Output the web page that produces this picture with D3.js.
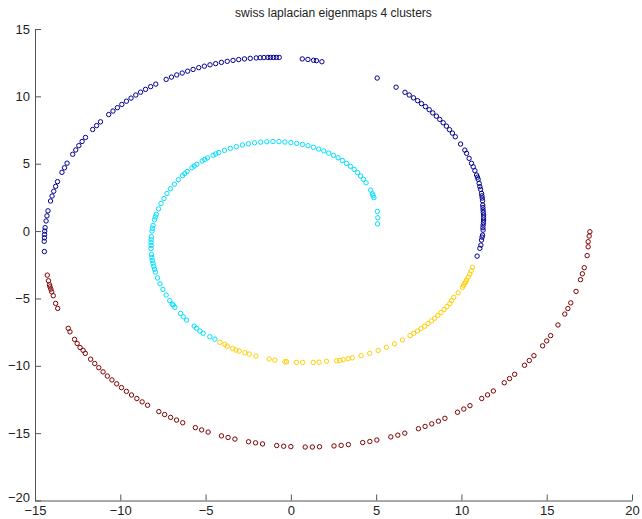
<!DOCTYPE html>
<html>
<head>
<meta charset="utf-8">
<script src="https://cdnjs.cloudflare.com/ajax/libs/d3/7.8.5/d3.min.js"></script>
<style>
  body { margin: 0; background: #fff; }
  svg text { font-family: "Liberation Sans", Arial, Helvetica, sans-serif; }
</style>
</head>
<body>
<div id="chart"></div>
<script>
var chartTitle = "swiss laplacian eigenmaps 4 clusters";
var xTicks = [-15, -10, -5, 0, 5, 10, 15, 20];
var yTicks = [-20, -15, -10, -5, 0, 5, 10, 15];
var clusterColors = ["#00008f", "#00dfff", "#ffcf00", "#800000"];

// cluster 1 (dark blue), outer arc over the top
var bluePoints = [
  [10.92,-1.86],[11.08,-1.28],[11.14,-1.04],[11.18,-0.67],[11.21,-0.45],[11.24,-0.30],[11.27,0.07],
  [11.26,0.25],[11.27,0.45],[11.29,0.63],[11.30,0.82],[11.30,1.00],[11.30,1.19],[11.28,1.38],
  [11.27,1.56],[11.26,1.75],[11.25,1.93],[11.24,2.25],[11.22,2.45],[11.20,2.62],[11.18,2.80],
  [11.12,3.10],[11.08,3.30],[11.04,3.54],[10.98,3.84],[10.94,4.00],[10.89,4.16],[10.79,4.48],
  [10.69,4.77],[10.59,5.03],[10.45,5.40],[10.30,5.77],[10.20,6.01],
  [9.95,6.46],[9.64,7.00],[9.47,7.27],[9.30,7.53],[9.12,7.79],[8.93,8.04],[8.73,8.29],[8.53,8.53],
  [8.32,8.77],[8.11,9.01],[7.89,9.24],[7.66,9.46],[7.43,9.68],[7.19,9.89],[6.94,10.10],[6.69,10.30],
  [6.17,10.68],[5.06,11.36],
  [1.82,12.57],[1.50,12.65],[1.33,12.68],[1.00,12.74],[0.67,12.78],
  [-0.68,12.89],[-0.85,12.89],[-1.02,12.89],[-1.20,12.89],[-1.35,12.89],[-1.58,12.88],[-1.80,12.87],
  [-2.03,12.85],[-2.38,12.82],[-2.72,12.78],[-3.06,12.73],[-3.39,12.67],[-3.73,12.60],[-4.07,12.52],
  [-4.41,12.43],[-4.74,12.34],[-5.07,12.24],[-5.40,12.13],[-5.73,12.00],[-6.05,11.87],[-6.37,11.73],
  [-6.69,11.59],[-7.00,11.43],[-7.31,11.26],
  [-7.92,10.91],[-8.22,10.72],[-8.52,10.52],[-8.81,10.31],[-9.09,10.10],[-9.37,9.87],[-9.64,9.64],
  [-9.91,9.40],[-10.17,9.16],[-10.43,8.91],[-10.68,8.65],[-11.16,8.11],[-11.39,7.83],[-11.62,7.54],
  [-12.04,6.95],[-12.24,6.65],[-12.43,6.34],[-12.61,6.02],[-12.79,5.70],[-13.12,5.04],[-13.27,4.70],
  [-13.42,4.36],[-13.68,3.67],[-13.79,3.32],[-13.90,2.96],[-14.00,2.60],[-14.09,2.23],[-14.24,1.50],
  [-14.30,1.13],[-14.35,0.75],[-14.41,0.25],[-14.43,0.00],[-14.44,-0.25],[-14.45,-0.50],
  [-14.46,-0.76],[-14.45,-1.52]
];

// cluster 2 (cyan), inner arc
var cyanPoints = [
  [5.08,0.53],[5.10,0.99],[5.07,1.46],
  [4.87,2.48],[4.82,2.62],[4.78,2.76],[4.68,3.04],[4.41,3.58],[4.26,3.84],[4.09,4.09],
  [3.91,4.34],[3.71,4.58],[3.49,4.81],[3.26,5.03],[3.02,5.24],[2.77,5.44],[2.50,5.62],
  [2.22,5.79],[1.93,5.95],[1.63,6.09],[1.32,6.22],[1.00,6.34],[0.68,6.43],[0.34,6.51],[0.00,6.57],
  [-0.35,6.61],[-0.70,6.64],[-1.05,6.65],[-1.41,6.63],[-1.77,6.60],[-2.13,6.55],[-2.49,6.48],
  [-2.84,6.39],[-3.20,6.27],[-3.55,6.14],[-3.89,5.99],[-4.23,5.82],[-4.40,5.73],[-4.56,5.63],
  [-4.89,5.43],[-5.05,5.32],[-5.20,5.20],[-5.51,4.96],[-5.66,4.83],[-5.80,4.70],[-6.08,4.42],
  [-6.22,4.27],[-6.35,4.12],[-6.60,3.81],
  [-6.83,3.48],[-7.06,3.14],[-7.26,2.79],[-7.44,2.42],[-7.61,2.04],[-7.76,1.65],
  [-7.89,1.25],[-7.95,1.05],[-7.99,0.84],[-8.08,0.42],[-8.11,0.21],[-8.14,0.00],[-8.18,-0.43],
  [-8.19,-0.65],[-8.20,-0.86],[-8.19,-1.08],[-8.20,-1.30],[-8.17,-1.74],[-8.15,-1.96],
  [-8.12,-2.17],[-8.08,-2.39],[-8.04,-2.61],[-7.99,-2.83],[-7.94,-3.05],[-7.82,-3.48],
  [-7.67,-3.91],[-7.50,-4.33],[-7.31,-4.75],[-7.10,-5.16],
  [-6.95,-5.42],[-6.90,-5.49],[-6.80,-5.66],[-6.47,-6.11],[-6.31,-6.36],[-6.11,-6.61],
  [-5.67,-7.05],[-5.53,-7.22],[-5.33,-7.42],[-5.14,-7.59],[-4.75,-7.85],[-4.45,-8.02]
];

// cluster 3 (yellow), inner arc bottom right
var yellowPoints = [
  [-4.16,-8.26],[-3.87,-8.41],[-3.73,-8.54],[-3.42,-8.71],[-3.22,-8.83],[-3.03,-8.91],
  [-2.70,-9.03],[-2.44,-9.13],[-2.05,-9.28],[-1.27,-9.50],[-0.94,-9.58],[-0.35,-9.70],
  [-0.25,-9.70],[0.33,-9.75],[0.69,-9.75],[1.31,-9.75],[1.66,-9.73],[2.09,-9.67],
  [2.68,-9.63],[2.87,-9.60],[3.07,-9.55],[3.36,-9.48],
  [3.61,-9.41],[4.12,-9.25],[4.62,-9.07],[5.12,-8.86],[5.60,-8.63],[6.08,-8.37],
  [6.54,-8.08],[6.99,-7.76],[7.20,-7.59],[7.42,-7.42],[7.63,-7.24],[7.84,-7.06],[8.04,-6.87],
  [8.24,-6.67],[8.43,-6.47],[8.62,-6.26],[8.80,-6.05],[8.98,-5.83],[9.15,-5.61],[9.32,-5.38],
  [9.43,-5.15],[9.55,-4.92],[9.81,-4.58],[10.06,-4.18],[10.12,-4.03],[10.20,-3.88],[10.25,-3.78],
  [10.30,-3.64],[10.40,-3.42],[10.49,-3.19],[10.57,-2.94],[10.65,-2.69]
];

// cluster 4 (dark red), outer arc bottom
var redPoints = [
  [-14.28,-3.27],[-14.21,-3.69],[-14.15,-3.99],[-14.12,-4.14],[-14.07,-4.31],[-14.02,-4.51],
  [-13.93,-4.80],[-13.79,-5.37],[-13.67,-5.74],
  [-13.05,-7.22],[-12.95,-7.48],[-12.68,-8.04],[-12.53,-8.34],[-12.36,-8.64],[-12.18,-8.85],
  [-12.05,-9.08],[-11.74,-9.51],[-11.50,-9.83],[-11.26,-10.14],[-11.01,-10.45],[-10.76,-10.76],
  [-10.49,-11.05],[-10.21,-11.34],[-9.93,-11.62],[-9.64,-11.90],[-9.34,-12.17],[-9.03,-12.43],
  [-8.72,-12.68],[-8.40,-12.93],[-7.74,-13.40],[-7.40,-13.62],[-7.05,-13.83],[-6.70,-14.03],
  [-6.34,-14.23],[-5.60,-14.59],[-5.23,-14.76],[-4.85,-14.92],[-4.07,-15.20],[-3.68,-15.32],
  [-3.28,-15.44],[-2.48,-15.64],[-2.07,-15.72],[-1.66,-15.80],[-0.83,-15.92],[-0.42,-15.97],
  [0.00,-16.00],[0.84,-16.03],[1.26,-16.03],[1.68,-16.01],[2.53,-15.95],[2.95,-15.91],
  [3.37,-15.85],[4.21,-15.70],[4.63,-15.62],[5.04,-15.51],[5.86,-15.28],[6.27,-15.15],
  [6.68,-15.00],[7.48,-14.67],[7.87,-14.50],[8.26,-14.31],[8.65,-14.11],[9.03,-13.90],
  [9.77,-13.45],[10.14,-13.21],[10.50,-12.96],[11.19,-12.43],[11.53,-12.16],[11.87,-11.87],
  [12.51,-11.26],[12.82,-10.95],[13.12,-10.63],[13.70,-9.96],[13.98,-9.61],[14.25,-9.25],
  [14.76,-8.52],[15.00,-8.15],[15.23,-7.76],[15.66,-6.97],[16.06,-6.16],[16.24,-5.75],
  [16.41,-5.33],[16.72,-4.48],[16.98,-3.61],[17.09,-3.17],[17.20,-2.72],
  [17.37,-1.82],[17.43,-1.17],[17.43,-0.79],[17.49,-0.37],[17.53,-0.05]
];

var clusters = [bluePoints, cyanPoints, yellowPoints, redPoints];

var width = 642, height = 519;
var plotLeft = 35, plotRight = 632, plotTop = 29, plotBottom = 500.5;

var svg = d3.select("#chart").append("svg")
            .attr("width", width)
            .attr("height", height);

var x = d3.scaleLinear().domain([-15, 20]).range([plotLeft, plotRight]);
var y = d3.scaleLinear().domain([-20, 15]).range([plotBottom, plotTop]);

// points first, axes drawn on top like matlab
clusters.forEach(function(points, i) {
  svg.append("g")
     .selectAll("circle")
     .data(points)
     .enter().append("circle")
     .attr("cx", function(d) { return x(d[0]); })
     .attr("cy", function(d) { return y(d[1]); })
     .attr("r", 2.2)
     .attr("fill", "none")
     .attr("stroke", clusterColors[i])
     .attr("stroke-width", 1);
});

var xAxis = d3.axisBottom(x)
              .tickValues(xTicks)
              .tickSizeInner(-6)
              .tickSizeOuter(0)
              .tickPadding(5);

var yAxis = d3.axisLeft(y)
              .tickValues(yTicks)
              .tickSizeInner(-6)
              .tickSizeOuter(0)
              .tickPadding(5);

var gx = svg.append("g")
            .attr("transform", "translate(0," + plotBottom + ")")
            .call(xAxis);

var gy = svg.append("g")
            .attr("transform", "translate(" + plotLeft + ",0)")
            .call(yAxis);

[gx, gy].forEach(function(g) {
  g.select(".domain").attr("stroke", "#555").attr("stroke-width", 1);
  g.selectAll(".tick line").attr("stroke", "#555");
  g.selectAll(".tick text")
   .attr("fill", "#222")
   .style("font-size", "13px");
});

// -20 sits right on top of -15 in the original, nudge it up a bit
gy.selectAll(".tick text")
  .filter(function(d) { return d === -20; })
  .attr("dy", "0.1em");

svg.append("text")
   .attr("x", (plotLeft + plotRight) / 2)
   .attr("y", 17)
   .attr("text-anchor", "middle")
   .attr("fill", "#222")
   .style("font-size", "12px")
   .text(chartTitle);
</script>
</body>
</html>
